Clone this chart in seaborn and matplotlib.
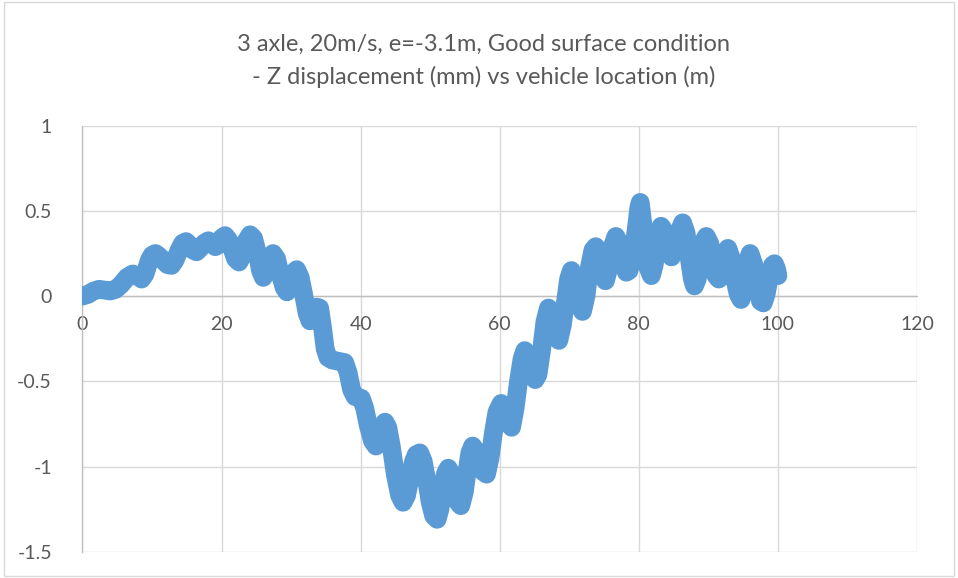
import matplotlib
matplotlib.use("Agg")
import matplotlib.pyplot as plt
import seaborn as sns
import pandas as pd
from matplotlib.patches import Rectangle

# Vehicle location (m)
location_m = [
    0.0, 0.8, 1.6, 2.4, 3.2, 4.0, 4.8, 5.6, 6.4, 7.2, 7.9, 8.5, 9.0, 9.6, 10.0,
    10.5, 11.0, 11.6, 12.2, 12.8, 13.3, 13.9, 14.4, 14.9, 15.4, 15.9, 16.4, 16.9,
    17.5, 18.1, 18.6, 19.1, 19.5, 20.0, 20.5, 21.0, 21.5, 22.0, 22.5, 23.0, 23.5,
    24.1, 24.6, 25.1, 25.6, 26.0, 26.5, 27.0, 27.4, 27.9, 28.5, 29.0, 29.4, 29.9,
    30.4, 30.8, 31.3, 31.8, 32.3, 32.7, 33.2, 33.7, 34.1, 34.5, 34.9, 35.3, 35.9,
    36.5, 37.1, 37.7, 38.2, 38.7, 39.2, 39.7, 40.1, 40.6, 41.1, 41.7, 42.2, 42.7,
    43.1, 43.5, 43.9, 44.4, 45.0, 45.6, 46.1, 46.6, 47.1, 47.6, 48.0, 48.5, 49.0,
    49.5, 50.0, 50.5, 51.0, 51.4, 51.8, 52.2, 52.6, 53.0, 53.5, 54.0, 54.4, 54.9,
    55.3, 55.7, 56.1, 56.6, 57.1, 57.6, 58.1, 58.6, 59.1, 59.6, 60.2, 60.7, 61.2,
    61.7, 62.2, 62.7, 63.2, 63.6, 64.1, 64.6, 65.1, 65.5, 66.0, 66.5, 67.0, 67.5,
    68.0, 68.5, 69.0, 69.5, 69.9, 70.3, 70.8, 71.3, 71.9, 72.4, 72.9, 73.4, 73.8,
    74.3, 74.8, 75.2, 75.7, 76.2, 76.7, 77.2, 77.7, 78.2, 78.6, 79.1, 79.6, 80.0,
    80.2, 80.5, 80.9, 81.3, 81.8, 82.2, 82.7, 83.2, 83.7, 84.2, 84.7, 85.2, 85.8,
    86.3, 86.8, 87.3, 87.7, 88.0, 88.4, 88.9, 89.3, 89.7, 90.2, 90.7, 91.1, 91.5,
    91.9, 92.4, 92.8, 93.3, 93.8, 94.3, 94.7, 95.1, 95.6, 96.0, 96.5, 97.0, 97.5,
    97.9, 98.3, 98.8, 99.2, 99.5, 99.8, 100.0,
]
# Z displacement (mm)
z_disp_mm = [
    0.00, 0.01, 0.03, 0.04, 0.035, 0.03, 0.04, 0.07, 0.11, 0.13, 0.12, 0.10, 0.13, 0.21, 0.24,
    0.25, 0.235, 0.21, 0.185, 0.18, 0.21, 0.27, 0.31, 0.32, 0.30, 0.27, 0.26, 0.28,
    0.31, 0.325, 0.31, 0.29, 0.30, 0.34, 0.355, 0.33, 0.28, 0.22, 0.20, 0.24, 0.32,
    0.36, 0.34, 0.26, 0.15, 0.11, 0.15, 0.23, 0.25, 0.22, 0.12, 0.05, 0.025, 0.07,
    0.14, 0.155, 0.11, 0.01, -0.10, -0.145, -0.10, -0.065, -0.07, -0.18, -0.31, -0.36, -0.375,
    -0.38, -0.385, -0.39, -0.45, -0.55, -0.59, -0.595, -0.60, -0.66, -0.76, -0.85, -0.88, -0.84,
    -0.76, -0.74, -0.77, -0.88, -1.05, -1.17, -1.21, -1.17, -1.07, -0.97, -0.93, -0.92, -0.97,
    -1.08, -1.21, -1.29, -1.31, -1.25, -1.13, -1.04, -1.01, -1.04, -1.13, -1.21, -1.23, -1.15,
    -1.03, -0.92, -0.88, -0.91, -0.98, -1.03, -1.045, -0.95, -0.80, -0.68, -0.63, -0.66, -0.74,
    -0.77, -0.66, -0.50, -0.37, -0.32, -0.36, -0.44, -0.49, -0.46, -0.32, -0.15, -0.07, -0.12,
    -0.22, -0.26, -0.17, -0.02, 0.10, 0.15, 0.10, -0.02, -0.09, 0.00, 0.17, 0.27, 0.29,
    0.22, 0.12, 0.09, 0.17, 0.29, 0.35, 0.31, 0.22, 0.14, 0.15, 0.24, 0.38, 0.52,
    0.55, 0.45, 0.29, 0.17, 0.12, 0.18, 0.33, 0.41, 0.38, 0.28, 0.23, 0.27, 0.38,
    0.43, 0.37, 0.21, 0.10, 0.06, 0.10, 0.23, 0.32, 0.35, 0.31, 0.20, 0.12, 0.10,
    0.16, 0.25, 0.28, 0.22, 0.10, 0.01, -0.02, 0.06, 0.20, 0.25, 0.19, 0.06, -0.03,
    -0.04, 0.01, 0.12, 0.18, 0.19, 0.16, 0.12,
]

x_ticks = [0, 20, 40, 60, 80, 100, 120]
y_ticks = [-1.5, -1, -0.5, 0, 0.5, 1]
y_tick_labels = ["-1.5", "-1", "-0.5", "0", "0.5", "1"]
title = "3 axle, 20m/s, e=-3.1m, Good surface condition\n- Z displacement (mm) vs vehicle location (m)"

df = pd.DataFrame({"location": location_m, "z": z_disp_mm})

sns.set_style("white")
plt.rcParams["font.family"] = ["Lato", "DejaVu Sans"]

fig = plt.figure(figsize=(9.58, 5.78), dpi=100)
ax = fig.add_axes([0.0861, 0.0455, 0.8711, 0.737])

sns.lineplot(data=df, x="location", y="z", sort=False, ax=ax,
             color="#5B9BD5", linewidth=13.5,
             solid_joinstyle="round", solid_capstyle="round", zorder=3)

ax.set_xlim(0, 120)
ax.set_ylim(-1.5, 1)
ax.set_xticks(x_ticks)
ax.set_yticks(y_ticks)
ax.set_yticklabels(y_tick_labels)
ax.set_xlabel("")
ax.set_ylabel("")

ax.grid(True, color="#D9D9D9", linewidth=1.0, zorder=0)
ax.set_axisbelow(True)

for side in ("top", "right"):
    ax.spines[side].set_visible(False)
ax.spines["bottom"].set_position(("data", 0))
ax.spines["bottom"].set_color("#BFBFBF")
ax.spines["left"].set_color("#BFBFBF")
ax.spines["bottom"].set_linewidth(1.0)
ax.spines["left"].set_linewidth(1.0)
ax.spines["bottom"].set_zorder(1)

ax.tick_params(axis="both", length=0, labelsize=14, labelcolor="#595959")
ax.tick_params(axis="x", pad=14)
ax.tick_params(axis="y", pad=22)

fig.text(0.505, 0.8945, title, ha="center", va="center", fontsize=17,
         color="#595959", linespacing=1.65)

# thin chart-area frame
fig.patches.append(Rectangle((0.004, 0.003), 0.992, 0.994, transform=fig.transFigure,
                             fill=False, edgecolor="#D9D9D9", linewidth=1.0))

fig.savefig("out.png", dpi=100)
